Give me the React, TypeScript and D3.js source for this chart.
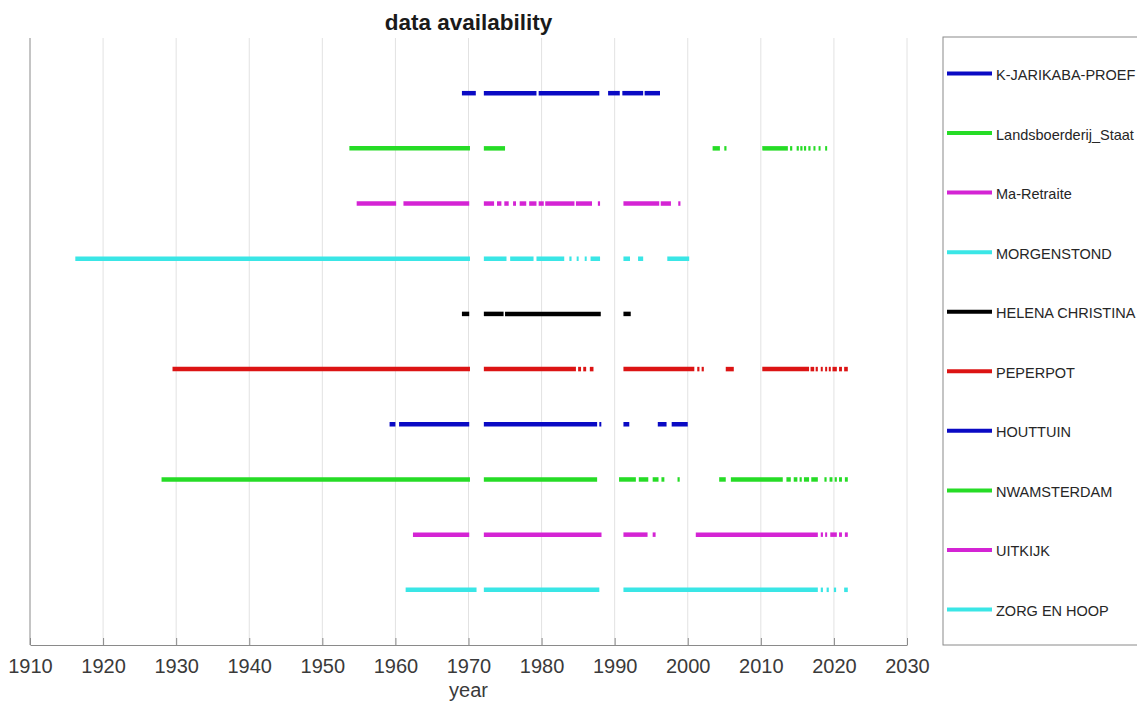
import React, { useEffect, useRef } from "react";
import * as d3 from "d3";

// station names, top row first (y = 10 ... 1)
const stationNames = [
  "K-JARIKABA-PROEF",
  "Landsboerderij_Staat",
  "Ma-Retraite",
  "MORGENSTOND",
  "HELENA CHRISTINA",
  "PEPERPOT",
  "HOUTTUIN",
  "NWAMSTERDAM",
  "UITKIJK",
  "ZORG EN HOOP",
];

const stationColors = [
  "#0a0ac4",
  "#26dc26",
  "#d424d4",
  "#3ae6e6",
  "#000000",
  "#dc1414",
  "#0a0ac4",
  "#26dc26",
  "#d424d4",
  "#3ae6e6",
];

// periods with data [from, to] in decimal years
const kJarikaba = [[1969.1, 1971.0], [1972.1, 1979.3], [1979.6, 1987.9], [1989.1, 1990.7], [1991.05, 1993.9], [1994.1, 1996.2]];
const landsboerderij = [[1953.7, 1970.2], [1972.1, 1975.0], [2003.4, 2004.4], [2005.0, 2005.3], [2010.2, 2013.7], [2014.0, 2014.3], [2014.9, 2015.2], [2015.4, 2015.7], [2015.9, 2016.2], [2016.5, 2016.8], [2017.2, 2017.4], [2017.9, 2018.1], [2018.8, 2019.0]];
const maRetraite = [[1954.7, 1960.1], [1961.1, 1970.1], [1972.1, 1973.5], [1973.9, 1974.5], [1974.9, 1975.5], [1976.1, 1976.5], [1977.0, 1977.9], [1978.3, 1979.3], [1979.6, 1980.3], [1980.5, 1984.5], [1984.7, 1986.9], [1987.7, 1988.0], [1991.2, 1996.1], [1996.3, 1997.7], [1998.7, 1999.0]];
const morgenstond = [[1916.2, 1970.2], [1972.1, 1975.2], [1975.7, 1978.9], [1979.3, 1983.1], [1983.8, 1984.1], [1984.8, 1985.0], [1985.9, 1986.1], [1986.7, 1988.0], [1991.2, 1992.1], [1993.2, 1993.9], [1997.2, 2000.2]];
const helena = [[1969.1, 1970.1], [1972.1, 1974.8], [1975.0, 1988.1], [1991.2, 1992.2]];
const peperpot = [[1929.5, 1970.2], [1972.1, 1984.7], [1985.0, 1985.4], [1985.7, 1986.1], [1986.6, 1987.1], [1991.2, 2000.9], [2001.3, 2001.6], [2001.9, 2002.2], [2005.2, 2006.3], [2010.2, 2016.6], [2016.8, 2017.3], [2017.5, 2017.8], [2018.2, 2018.4], [2018.8, 2019.0], [2019.3, 2019.5], [2019.8, 2020.4], [2020.7, 2021.1], [2021.4, 2021.9]];
const houttuin = [[1959.2, 1960.0], [1960.5, 1970.1], [1972.1, 1987.6], [1987.9, 1988.1], [1991.2, 1992.0], [1995.9, 1997.1], [1997.8, 2000.0]];
const nwamsterdam = [[1928.0, 1970.2], [1972.1, 1987.6], [1990.6, 1992.9], [1993.3, 1994.6], [1995.2, 1996.0], [1996.4, 1996.8], [1998.6, 1998.9], [2004.3, 2005.2], [2005.9, 2013.0], [2013.5, 2014.1], [2014.5, 2015.0], [2015.3, 2015.6], [2015.9, 2016.6], [2016.9, 2017.8], [2018.7, 2019.0], [2019.4, 2019.8], [2020.1, 2020.4], [2020.7, 2021.1], [2021.5, 2021.9]];
const uitkijk = [[1962.4, 1970.1], [1972.1, 1988.2], [1991.2, 1994.5], [1995.2, 1995.6], [2001.1, 2017.8], [2018.2, 2018.5], [2018.8, 2019.0], [2019.5, 2020.4], [2020.7, 2021.1], [2021.5, 2021.9]];
const zorgEnHoop = [[1961.4, 1971.1], [1972.1, 1987.9], [1991.2, 2017.8], [2018.2, 2018.5], [2019.0, 2019.3], [2020.0, 2020.3], [2021.4, 2021.9]];

const periods = [kJarikaba, landsboerderij, maRetraite, morgenstond, helena, peperpot, houttuin, nwamsterdam, uitkijk, zorgEnHoop];

const xTicks = d3.range(1910, 2031, 10);

export default function App() {
  const svgRef = useRef<SVGSVGElement>(null);

  useEffect(() => {
    const svg = d3.select(svgRef.current);
    svg.selectAll("*").remove();

    const left = 30, right = 907, top = 38, bottom = 645;
    const x = d3.scaleLinear().domain([1910, 2030]).range([left, right]);
    const y = d3.scaleLinear().domain([0, 11]).range([bottom, top]);
    const font = "'Liberation Sans', Arial, sans-serif";

    svg.append("rect").attr("width", 1137).attr("height", 707).attr("fill", "#fff");

    // grid
    svg.append("g")
      .selectAll("line")
      .data(xTicks.slice(1))
      .join("line")
      .attr("x1", d => x(d)).attr("x2", d => x(d))
      .attr("y1", top).attr("y2", bottom)
      .attr("stroke", "#e2e2e2")
      .attr("stroke-width", 1);

    // x axis
    const ax = svg.append("g")
      .attr("transform", "translate(0," + bottom + ")")
      .call(d3.axisBottom(x).tickValues(xTicks).tickFormat(d3.format("d")).tickSizeInner(-7).tickSizeOuter(0).tickPadding(14));
    ax.select(".domain").attr("stroke", "#8a8a8a");
    ax.selectAll(".tick line").attr("stroke", "#8a8a8a");
    ax.selectAll("text")
      .attr("font-family", font)
      .attr("font-size", 20)
      .attr("fill", "#3a3a3a");

    // left axis line
    svg.append("line")
      .attr("x1", left).attr("x2", left)
      .attr("y1", top).attr("y2", bottom)
      .attr("stroke", "#8a8a8a");

    // data periods
    const rows = stationNames.map((name, i) => ({
      name,
      color: stationColors[i],
      level: stationNames.length - i,
      segs: periods[i],
    }));

    const g = svg.append("g");
    rows.forEach(r => {
      g.selectAll(null)
        .data(r.segs)
        .join("line")
        .attr("x1", d => x(d[0]))
        .attr("x2", d => Math.max(x(d[1]), x(d[0]) + 2))
        .attr("y1", y(r.level)).attr("y2", y(r.level))
        .attr("stroke", r.color)
        .attr("stroke-width", 4.5);
    });

    // title and axis label
    svg.append("text")
      .attr("x", x(1970)).attr("y", 30)
      .attr("text-anchor", "middle")
      .attr("font-family", font)
      .attr("font-weight", "bold")
      .attr("font-size", 22.5)
      .attr("fill", "#1a1a1a")
      .text("data availability");

    svg.append("text")
      .attr("x", x(1970)).attr("y", 697)
      .attr("text-anchor", "middle")
      .attr("font-family", font)
      .attr("font-size", 20)
      .attr("fill", "#3a3a3a")
      .text("year");

    // legend
    const lg = svg.append("g");
    lg.append("rect")
      .attr("x", 943).attr("y", 37)
      .attr("width", 260).attr("height", 608)
      .attr("fill", "#fff")
      .attr("stroke", "#8a8a8a");

    const ly = d3.scalePoint().domain(stationNames).range([73.5, 609.5]);
    const items = lg.selectAll("g.item")
      .data(rows)
      .join("g")
      .attr("class", "item")
      .attr("transform", d => "translate(0," + ly(d.name) + ")");
    items.append("line")
      .attr("x1", 947).attr("x2", 992)
      .attr("stroke", d => d.color)
      .attr("stroke-width", 4);
    items.append("text")
      .attr("x", 996).attr("y", 6.5)
      .attr("font-family", font)
      .attr("font-size", 14.5)
      .attr("fill", "#262626")
      .text(d => d.name);
  }, []);

  return (
    <svg
      ref={svgRef}
      width={1137}
      height={707}
      style={{ position: "absolute", left: 0, top: 0 }}
    />
  );
}
